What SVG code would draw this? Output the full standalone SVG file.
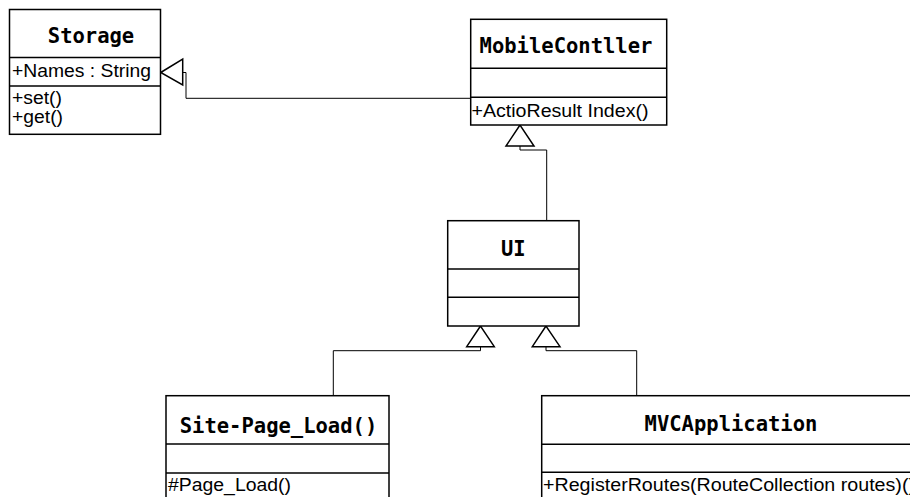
<svg xmlns="http://www.w3.org/2000/svg" width="910" height="497" viewBox="0 0 910 497">
<style>
.box{fill:#fff;stroke:#000;stroke-width:1.5}
.div{stroke:#000;stroke-width:1.5}
.conn{fill:none;stroke:#000;stroke-width:1}
.tri{fill:#fff;stroke:#000;stroke-width:1.5}
.title{font-family:"DejaVu Sans Mono","Liberation Mono",monospace;font-weight:bold;font-size:20.5px;fill:#000;text-anchor:middle}
.mem{font-family:"Liberation Sans",Arial,sans-serif;font-size:17.5px;fill:#000}
</style>
<rect width="910" height="497" fill="#fff"/>
<g id="connectors">
<polyline class="conn" points="470.7,98.3 186,98.3 186,72.5 182.7,72.5"/>
<polygon class="tri" points="160.7,72.5 182.7,59 182.7,85"/>
<polyline class="conn" points="546.7,220.7 546.7,150 520,150 520,146"/>
<polygon class="tri" points="520,125 506,146 534,146"/>
<polyline class="conn" points="333.3,395.7 333.3,350.7 480.5,350.7 480.5,346.7"/>
<polygon class="tri" points="480.5,326 466.7,346.7 494.3,346.7"/>
<polyline class="conn" points="636.7,395.7 636.7,350.7 546,350.7 546,346.7"/>
<polygon class="tri" points="546,326 532.3,346.7 560,346.7"/>
</g>
<g id="storage">
<rect class="box" x="9.5" y="9.5" width="151" height="124.8"/>
<line class="div" x1="9.5" y1="57.5" x2="160.5" y2="57.5"/>
<line class="div" x1="9.5" y1="86" x2="160.5" y2="86"/>
<text class="title" x="91" y="43">Storage</text>
<text class="mem" x="12" y="77" textLength="139" lengthAdjust="spacingAndGlyphs">+Names : String</text>
<text class="mem" x="12" y="104" textLength="50" lengthAdjust="spacingAndGlyphs">+set()</text>
<text class="mem" x="12" y="123" textLength="51" lengthAdjust="spacingAndGlyphs">+get()</text>
</g>
<g id="mobilecontller">
<rect class="box" x="470.7" y="19.3" width="196" height="105.7"/>
<line class="div" x1="470.7" y1="68.3" x2="666.7" y2="68.3"/>
<line class="div" x1="470.7" y1="97.3" x2="666.7" y2="97.3"/>
<text class="title" x="566" y="53">MobileContller</text>
<text class="mem" x="471.5" y="116.5" textLength="177" lengthAdjust="spacingAndGlyphs">+ActioResult Index()</text>
</g>
<g id="ui">
<rect class="box" x="447.7" y="220.7" width="131.3" height="105.3"/>
<line class="div" x1="447.7" y1="269" x2="579" y2="269"/>
<line class="div" x1="447.7" y1="297.3" x2="579" y2="297.3"/>
<text class="title" x="513.3" y="256">UI</text>
</g>
<g id="site-page-load">
<rect class="box" x="166" y="395.7" width="223" height="120"/>
<line class="div" x1="166" y1="444" x2="389" y2="444"/>
<line class="div" x1="166" y1="473" x2="389" y2="473"/>
<text class="title" x="278.5" y="433">Site-Page_Load()</text>
<text class="mem" x="168" y="491" textLength="123" lengthAdjust="spacingAndGlyphs">#Page_Load()</text>
</g>
<g id="mvcapplication">
<rect class="box" x="541.7" y="395.7" width="380" height="120"/>
<line class="div" x1="541.7" y1="444.3" x2="921.7" y2="444.3"/>
<line class="div" x1="541.7" y1="472.3" x2="921.7" y2="472.3"/>
<text class="title" x="731" y="431">MVCApplication</text>
<text class="mem" x="543" y="491" textLength="372" lengthAdjust="spacingAndGlyphs">+RegisterRoutes(RouteCollection routes)()</text>
</g>
</svg>
